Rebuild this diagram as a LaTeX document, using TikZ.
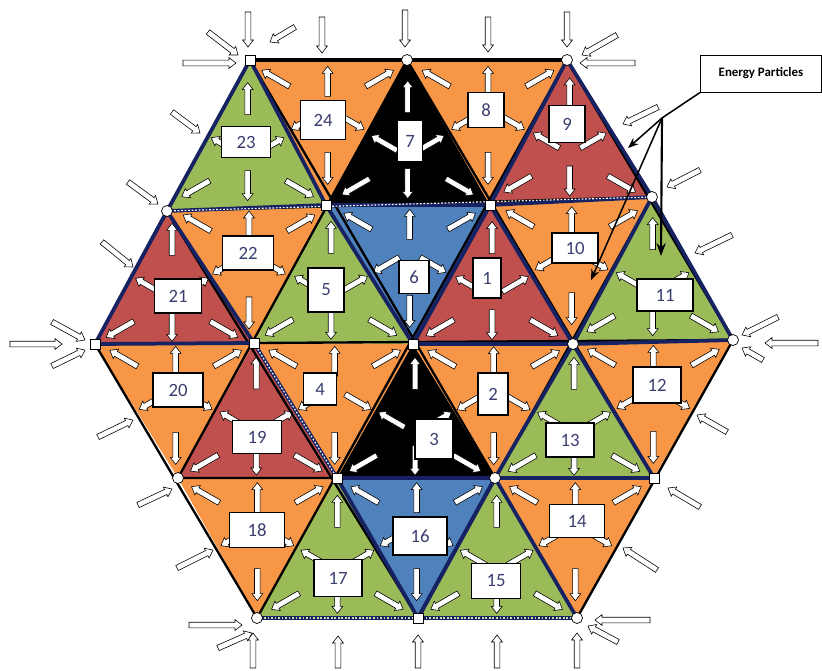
\documentclass[tikz,border=0pt]{standalone}
\usepackage{fontspec}
\setmainfont{Carlito}
\usetikzlibrary{calc,arrows.meta}

\definecolor{oranje}{RGB}{247,150,70}
\definecolor{groen}{RGB}{155,187,89}
\definecolor{rood}{RGB}{192,80,77}
\definecolor{blauw}{RGB}{79,129,189}
\definecolor{marine}{RGB}{22,34,98}
\definecolor{cijfer}{RGB}{58,62,112}

\tikzset{
  pijl/.style={fill=white, draw=black, line width=0.5pt},
  vak/.style={draw=black, fill=white, line width=0.9pt, inner sep=0pt, text=cijfer, font=\fontsize{16}{16}\selectfont},
  knoop/.style={fill=white, draw=black, line width=0.6pt},
  rand/.style={draw=marine, line width=3.2pt, line join=round},
  lijn/.style={draw=black, line width=2pt},
  wijzer/.style={draw=black, line width=1.3pt},
}

% holle pijl langs de x-as, van #1 tot #2
\newcommand{\pijlvorm}[2]{\filldraw[pijl] (#1,-2.8) -- (#2-7,-2.8) -- (#2-7,-5.4) -- (#2,0) -- (#2-7,5.4) -- (#2-7,2.8) -- (#1,2.8) -- cycle;}
\newcommand{\straal}[4]{\begin{scope}[shift={(#1)}, rotate=#2]\pijlvorm{#3}{#4}\end{scope}}
\newcommand{\hpijl}[4]{%
  \pgfmathsetmacro\pijllen{veclen(#3-#1,#4-#2)}%
  \pgfmathsetmacro\pijlhoek{-atan2(#4-#2,#3-#1)}%
  \begin{scope}[shift={(#1,#2)}, rotate=\pijlhoek]\pijlvorm{0}{\pijllen}\end{scope}}

\begin{document}
\begin{tikzpicture}[x=0.03cm, y=-0.03cm]
\useasboundingbox (0,0) rectangle (822,670);

% Roosterpunten
\coordinate (a1) at (250,60);
\coordinate (a2) at (407,60);
\coordinate (a3) at (567,60);
\coordinate (b1) at (167,211);
\coordinate (b2) at (326,205);
\coordinate (b3) at (490,205);
\coordinate (b4) at (652,197);
\coordinate (c1) at (95,344);
\coordinate (c2) at (254,343);
\coordinate (c3) at (413,344);
\coordinate (c4) at (573,344);
\coordinate (c5) at (733,340);
\coordinate (d1) at (178,478);
\coordinate (d2) at (337,478);
\coordinate (d3) at (495,478);
\coordinate (d4) at (654,478);
\coordinate (e1) at (257,618);
\coordinate (e2) at (418,618);
\coordinate (e3) at (577,618);

% Driehoeken met hun pijlen
\foreach \n/\a/\b/\c/\kl/\v in {
  23/a1/b1/b2/groen/90, 24/a1/a2/b2/oranje/30, 7/a2/b2/b3/black/90,
  8/a2/a3/b3/oranje/30, 9/a3/b3/b4/rood/90,
  21/b1/c1/c2/rood/90, 22/b1/b2/c2/oranje/30, 5/b2/c2/c3/groen/90,
  6/b2/b3/c3/blauw/30, 1/b3/c3/c4/rood/90, 10/b3/b4/c4/oranje/30,
  11/b4/c4/c5/groen/90,
  20/c1/c2/d1/oranje/30, 19/c2/d1/d2/rood/90, 4/c2/c3/d2/oranje/30,
  3/c3/d2/d3/black/90, 2/c3/c4/d3/oranje/30, 13/c4/d3/d4/groen/90,
  12/c4/c5/d4/oranje/30,
  18/d1/d2/e1/oranje/30, 17/d2/e1/e2/groen/90, 16/d2/d3/e2/blauw/30,
  15/d3/e2/e3/groen/90, 14/d3/d4/e3/oranje/30} {
  \fill[\kl] (\a) -- (\b) -- (\c) -- cycle;
  \coordinate (m\n) at ($0.3333*(\a)+0.3333*(\b)+0.3334*(\c)$);
  \foreach \k in {0,1,2} {
    \straal{m\n}{\v+120*\k}{44}{76}
    \straal{m\n}{120-\v+120*\k}{12}{42}
  }
}

% Lijnen
\draw[lijn] (a1) -- (a3) (b1) -- (b4) (c1) -- (c5) (d1) -- (d4) (e1) -- (e3);
\draw[lijn] (c1) -- (a1) (d1) -- (a2) (e1) -- (a3) (e2) -- (b4) (e3) -- (c5);
\draw[lijn] (a1) -- (e3) (b1) -- (e2) (c1) -- (e1) (a2) -- (d4) (a3) -- (c5);
\draw[black, line width=3pt] (a1) -- (a3);
\foreach \a/\b/\c in {a1/b1/b2, a3/b3/b4, b1/c1/c2, b2/b3/c3, b3/c3/c4,
  b4/c4/c5, c4/d3/d4, d2/d3/e2, d3/e2/e3}
  \draw[rand] (\a) -- (\b) -- (\c) -- cycle;
\draw[rand] (c2) -- (d2) (e1) -- (e2);
\draw[white, line width=1pt, dash pattern=on 1.5pt off 1.5pt] (b1) -- (b4) (c2) -- (d2);
\draw[groen!50!white, line width=1pt, dash pattern=on 1.5pt off 1.5pt] (e1) -- (e3);

% Vakjes
\foreach \n/\x/\y/\w/\h in {
  23/246/142/49/31, 24/323/120/45/39, 7/410/141/25/42, 8/486/110/36/35,
  9/567/124/36/37, 22/248/253/51/34, 21/178/296/47/34, 5/326/290/36/44,
  6/414/277/30/33, 1/487/278/28/40, 10/575/248/46/30, 11/665/295/56/32,
  20/178/390/50/34, 19/257/437/49/33, 4/320/389/33/32, 3/434/439/38/40,
  2/493/394/30/42, 13/570/440/48/34, 12/657/385/48/36, 18/257/530/55/35,
  17/338/578/48/37, 16/420/536/54/38, 15/496/581/49/35, 14/577/521/55/33}
  \node[vak, minimum width=\w*0.03cm, minimum height=\h*0.03cm] (v\n) at (\x,\y) {\n};

% Pijlen van buiten
\foreach \xa/\ya/\xb/\yb in {
  248/12/248/47, 322/17/322/53, 405/10/405/47, 488/17/488/52, 567/12/567/47,
  208/32/238/55, 295/27/270/42, 183/63/236/63, 617/35/582/55, 635/63/580/63,
  658/107/623/124, 700/170/667/187, 732/235/695/253, 778/317/742/335,
  818/343/765/343, 763/360/742/348, 727/432/697/415, 700/507/668/488,
  657/570/623/548, 650/620/595/620, 618/642/588/626, 577/668/577/633,
  497/668/497/635, 418/668/418/635, 338/668/338/636, 253/668/253/633,
  189/625/242/625, 218/648/252/633, 177/568/213/550, 138/505/172/489,
  98/437/133/420, 52/322/85/340, 10/344/62/344, 52/366/85/350,
  102/242/133/267, 128/182/158/204, 172/112/200/133}
  {\hpijl{\xa}{\ya}{\xb}{\yb}}

% Knopen
\foreach \p in {a2,a3,b1,b4,c4,c5,d1,d3,e1,e3}
  \filldraw[knoop] (\p) circle (5.5);
\foreach \p in {a1,b2,b3,c1,c2,c3,d2,d4,e2}
  \filldraw[knoop] ($(\p)+(-5,-5)$) rectangle ($(\p)+(5,5)$);

% Uitleg
\node[draw=black, line width=0.8pt, fill=white, minimum width=121*0.03cm,
  minimum height=37*0.03cm, font=\bfseries\fontsize{11}{11}\selectfont] (ep) at (761,73.5) {Energy Particles};
\coordinate (ek) at (662,118);
\coordinate (t9) at (628,148);
\coordinate (t10) at (591,280);
\coordinate (t11) at (661,256);
\draw[wijzer] (ep.south west) -- (ek);
\draw[wijzer, -{Stealth[length=9pt,width=7pt]}] (ek) -- (t9);
\draw[wijzer, -{Stealth[length=9pt,width=7pt]}] (ek) -- (t10);
\draw[wijzer, line width=1.8pt, -{Stealth[length=11pt,width=8pt]}] (ek) -- (t11);
\end{tikzpicture}
\end{document}
